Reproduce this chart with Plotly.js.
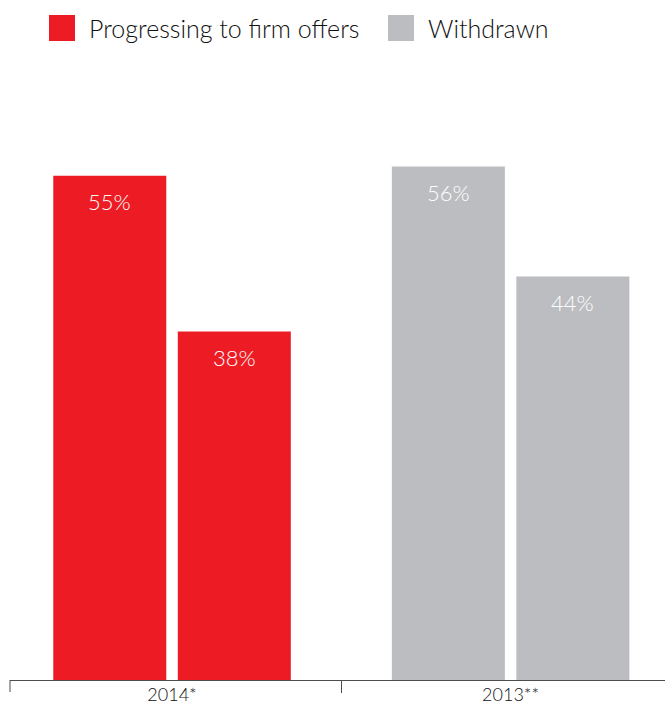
<!DOCTYPE html>
<html>
<head>
<meta charset="utf-8">
<script src="https://cdn.plot.ly/plotly-3.0.1.min.js"></script>
<style>html,body{margin:0;padding:0;background:#fff;}#chart{width:665px;height:706px;}</style>
</head>
<body>
<div id="chart"></div>
<script>
// ---- data ----
const categories = ['2014*', '2013**'];
const firstBarValues = [55, 56];
const secondBarValues = [38, 44];
const legendLabels = ['Progressing to firm offers', 'Withdrawn'];
const groupColors = ['#ED1C24', '#BCBDC0'];

// ---- layout constants ----
const W = 665, H = 706;
const M = {l: 10, r: 0, t: 100, b: 26};
const plotW = W - M.l - M.r, plotH = H - M.t - M.b;
const px2x = p => (p - M.l) / plotW;
const py2y = p => (H - M.b - p) / plotH;
const FONT = 'Lato, "Open Sans", sans-serif';

const traces = [firstBarValues, secondBarValues].map((vals, i) => ({
  type: 'bar',
  x: categories,
  y: vals,
  marker: {color: groupColors, line: {width: 0}},
  showlegend: false,
  hoverinfo: 'x+y'
}));

const annotations = [];
const barShift = 62.25;
[firstBarValues, secondBarValues].forEach((vals, i) => {
  vals.forEach((v, j) => {
    annotations.push({
      x: categories[j], y: v, xref: 'x', yref: 'y',
      xshift: (i === 0 ? -barShift : barShift), yshift: -26,
      text: v + '%', showarrow: false,
      xanchor: 'center', yanchor: 'middle',
      font: {family: FONT, size: 22, color: '#ffffff', weight: 300}
    });
  });
});

const shapes = [];
const legendX = [49, 388];
legendLabels.forEach((lab, i) => {
  shapes.push({
    type: 'rect', xref: 'paper', yref: 'paper',
    x0: px2x(legendX[i]), x1: px2x(legendX[i] + 26),
    y0: py2y(41), y1: py2y(15),
    fillcolor: groupColors[i], line: {width: 0}
  });
  annotations.push({
    xref: 'paper', yref: 'paper',
    x: px2x(legendX[i] + 38), y: py2y(28),
    xanchor: 'left', yanchor: 'middle',
    text: lab, showarrow: false,
    font: {family: FONT, size: 25, color: '#111111', weight: 300}
  });
});
// left end tick
shapes.push({
  type: 'line', xref: 'paper', yref: 'paper',
  x0: 0, x1: 0, y0: 0, y1: -12/plotH,
  line: {color: '#4D4D4F', width: 1}
});

const layout = {
  width: W, height: H,
  margin: M,
  paper_bgcolor: '#ffffff', plot_bgcolor: '#ffffff',
  barmode: 'group',
  bargap: 0.2644,
  bargroupgap: 0.0924,
  showlegend: false,
  xaxis: {
    type: 'category',
    range: [-0.4786, 1.456],
    showline: true, linecolor: '#4D4D4F', linewidth: 1,
    ticks: 'outside', tickson: 'boundaries', ticklen: 12, tickcolor: '#4D4D4F', tickwidth: 1,
    ticklabelstandoff: -2,
    tickfont: {family: FONT, size: 18, color: '#111111', weight: 300},
    showgrid: false, zeroline: false, fixedrange: true
  },
  yaxis: {
    range: [0, 63.25],
    visible: false, showgrid: false, zeroline: false, fixedrange: true
  },
  shapes: shapes,
  annotations: annotations
};

Plotly.newPlot('chart', traces, layout, {displayModeBar: false, staticPlot: true});
</script>
</body>
</html>
